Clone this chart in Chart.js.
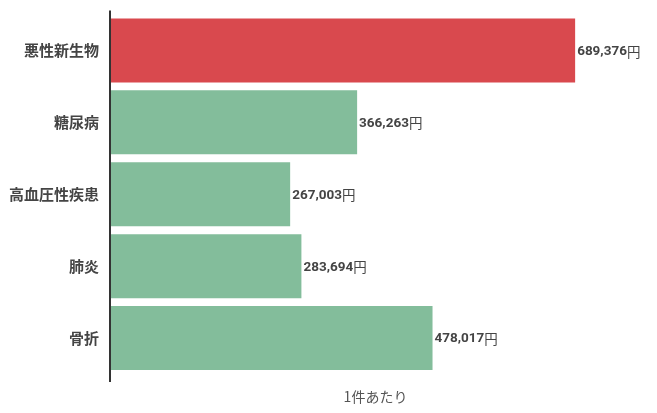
<!DOCTYPE html>
<html><head><meta charset="utf-8">
<script src="https://cdn.jsdelivr.net/npm/chart.js@4"></script>
<style>html,body{margin:0;padding:0;background:#fff}#wrap{width:657px;height:413px}</style>
</head><body><div id="wrap"><canvas id="c"></canvas></div>
<script>
const categories = ['悪性新生物','糖尿病','高血圧性疾患','肺炎','骨折'];
const values = [689376, 366263, 267003, 283694, 478017];
const highlight = [true, false, false, false, false];
const unit = '円';
const axisTitle = '1件あたり';

const RED = '#d9494e', GREEN = '#83bd9b';
const CJK = "'Noto Sans CJK JP', 'Noto Sans', sans-serif";

const labelPlugin = {
  id: 'labels',
  afterDatasetsDraw(chart) {
    const ctx = chart.ctx;
    const meta = chart.getDatasetMeta(0);
    ctx.save();
    ctx.textBaseline = 'middle';
    ctx.fillStyle = '#444';
    meta.data.forEach((bar, i) => {
      const txt = values[i].toLocaleString('en-US');
      let x = bar.x + 2;
      ctx.font = "bold 13.5px Roboto, " + CJK;
      ctx.fillText(txt, x, bar.y + 1);
      x += ctx.measureText(txt).width;
      ctx.font = "13.5px " + CJK;
      ctx.fillText(unit, x, bar.y + 1);
    });
    const a = chart.chartArea;
    ctx.strokeStyle = '#333';
    ctx.lineWidth = 2;
    ctx.beginPath();
    ctx.moveTo(110, a.top - 4);
    ctx.lineTo(110, a.bottom + 8);
    ctx.stroke();
    ctx.restore();
  }
};

const chart = new Chart(document.getElementById('c'), {
  type: 'bar',
  data: {
    labels: categories,
    datasets: [{
      data: values,
      backgroundColor: highlight.map(h => h ? RED : GREEN),
      borderWidth: 0,
      categoryPercentage: 1,
      barPercentage: 0.89
    }]
  },
  options: {
    indexAxis: 'y',
    responsive: true,
    maintainAspectRatio: false,
    animation: false,
    layout: { padding: { top: 14.5, right: 16, left: 0, bottom: 0 } },
    plugins: { legend: { display: false }, tooltip: { enabled: false } },
    scales: {
      x: {
        min: 0, max: 787000,
        grid: { display: false, drawTicks: false },
        border: { display: false },
        ticks: { display: false },
        title: { display: true, text: axisTitle, color: '#555', font: { family: CJK, size: 14 }, padding: { top: 8, bottom: 8 } },
        afterFit(s) { s.height = 39; }
      },
      y: {
        grid: { display: false, drawTicks: false },
        border: { display: false },
        ticks: { color: '#444', font: { family: CJK, size: 15, weight: 'bold' }, padding: 11 },
        afterFit(s) { s.width = 110; s.paddingTop = 0; s.paddingBottom = 0; }
      }
    }
  },
  plugins: [labelPlugin]
});
</script></body></html>
